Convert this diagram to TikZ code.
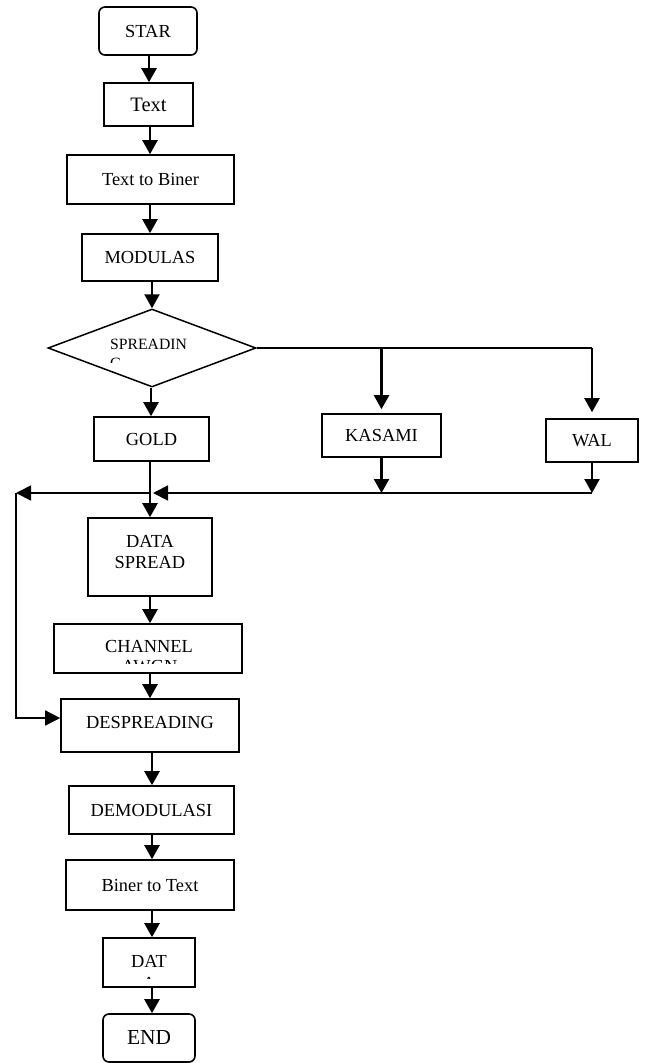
\documentclass[tikz,border=0pt]{standalone}
\usepackage{fontspec}
\setmainfont{Liberation Serif}
\usetikzlibrary{arrows.meta,shapes.geometric}
\begin{document}
\begin{tikzpicture}[x=1pt,y=-1pt,
  box/.style={draw,line width=1.6pt,inner sep=0pt,font=\fontsize{18.4}{20.5}\selectfont},
  term/.style={box,rounded corners=6pt},
  flow/.style={line width=2.3pt,-{Triangle[width=15pt,length=14pt]}},
  link/.style={line width=1.5pt},
  buslink/.style={line width=1.8pt,-{Triangle[width=15pt,length=15pt]}},
  txt/.style={inner sep=0pt,font=\fontsize{18.4}{20.5}\selectfont}]
\useasboundingbox (0,0) rectangle (645,1063);

% nodes
\node[term,minimum width=98pt,minimum height=48pt] (star) at (148,31) {STAR};
\node[box,minimum width=89pt,minimum height=43pt,font=\fontsize{20.5}{22}\selectfont] (text) at (148.5,104.5) {Text};
\node[box,minimum width=167pt,minimum height=49pt] (t2b) at (150.5,179.5) {Text to Biner};
\node[box,minimum width=136pt,minimum height=47pt] (mod) at (150,257.5) {MODULAS};
\node[draw,diamond,line width=1.5pt,minimum width=208pt,minimum height=78pt,inner sep=0pt] (dia) at (152,348) {};
\node[txt,anchor=base west,font=\fontsize{15.7}{18}\selectfont] (spr) at (110,349) {SPREADIN};
\begin{scope}
  \clip (100,350) rectangle (140,362);
  \node[txt,anchor=base west,font=\fontsize{15.7}{18}\selectfont] (sprg) at (110,368) {G};
\end{scope}
\node[box,minimum width=115pt,minimum height=44pt] (gold) at (151.5,439) {GOLD};
\node[box,minimum width=119pt,minimum height=43pt] (kasami) at (381.5,435.5) {KASAMI};
\node[box,minimum width=92pt,minimum height=43pt] (wal) at (592,440.5) {WAL};
\node[box,minimum width=124pt,minimum height=78pt] (data) at (150,557) {};
\node[txt,align=center] (datatxt) at (150,552) {DATA\\SPREAD};
\node[box,minimum width=188pt,minimum height=49pt] (chan) at (148,648.5) {};
\node[txt,anchor=base] (chantxt) at (149,652) {CHANNEL};
\begin{scope}
  \clip (100,655) rectangle (200,663.5);
  \node[txt,anchor=base] (awgn) at (149.5,672.5) {AWGN};
\end{scope}
\node[box,minimum width=178pt,minimum height=53pt] (desp) at (150,725.5) {};
\node[txt] (desptxt) at (150,722) {DESPREADING};
\node[box,minimum width=165pt,minimum height=48pt] (demod) at (151.5,810) {DEMODULASI};
\node[box,minimum width=168pt,minimum height=50pt] (b2t) at (150,885) {Biner to Text};
\node[box,minimum width=92pt,minimum height=49pt] (dat) at (149,962.5) {};
\node[txt,anchor=base] (dattxt) at (149,967) {DAT};
\begin{scope}
  \clip (130,972) rectangle (170,978);
  \node[txt,anchor=base] (datA) at (149,989.5) {A};
\end{scope}
\node[term,minimum width=92pt,minimum height=48pt,font=\fontsize{21.4}{23}\selectfont] (end) at (149,1038) {END};

% main flow
\draw[flow] (star.south -| 149,0) -- (text.north -| 149,0);
\draw[flow] (text.south -| 150,0) -- (t2b.north -| 150,0);
\draw[flow] (t2b.south -| 150,0) -- (mod.north -| 150,0);
\draw[flow] (dia.north |- mod.south) -- (dia.north);
\draw[flow] (dia.south -| 151,0) -- (gold.north -| 151,0);
\draw[flow] (gold.south -| 150,0) -- (data.north -| 150,0);
\draw[flow] (data.south) -- (chan.north -| data.south);
\draw[flow] (chan.south -| 150,0) -- (desp.north -| 150,0);
\draw[flow] (desp.south -| 152,0) -- (demod.north -| 152,0);
\draw[flow] (demod.south -| 152,0) -- (b2t.north -| 152,0);
\draw[flow] (b2t.south -| 152,0) -- (dat.north -| 152,0);
\draw[flow] (dat.south -| 152,0) -- (end.north -| 152,0);

% branches
\draw[line width=1.2pt] (dia.east) -- (wal.north |- dia.east) coordinate (wr);
\coordinate (kr) at (kasami.north |- dia.east);
\draw[flow,shorten >=4pt] (kr) -- (kasami.north);
\draw[flow,shorten >=6pt] (wr) -- (wal.north);

% collecting bus
\coordinate (busy) at (0,493);
\coordinate (wb) at (wal.south |- busy);
\coordinate (kb) at (kasami.south |- busy);
\coordinate (gb) at (150,493);
\coordinate (lj) at (16,493);
\coordinate (ld) at (16,718);
\draw[flow] (wal.south) -- (wb);
\draw[flow] (kasami.south) -- (kb);
\draw[buslink,shorten >=3pt] (wb) -- (gb);
\draw[buslink] (gb) -- (lj);
\draw[link,-{Triangle[width=15pt,length=15pt]}] (lj) -- (ld) -- (desp.west |- ld);
\end{tikzpicture}
\end{document}
